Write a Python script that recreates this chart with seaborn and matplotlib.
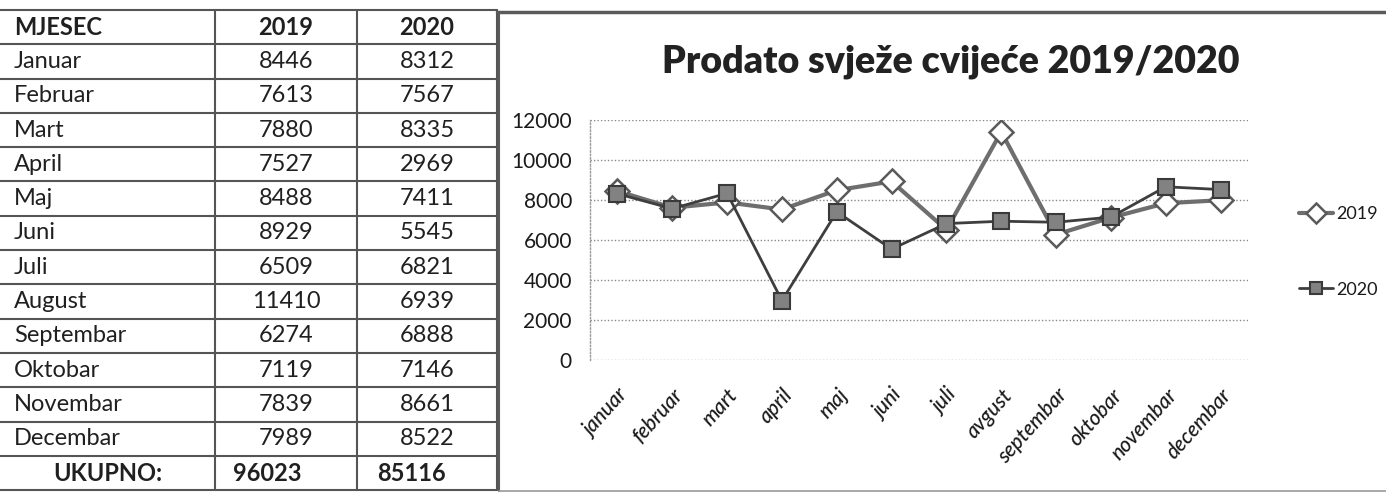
import numpy as np
import pandas as pd
import matplotlib
matplotlib.use('Agg')
import matplotlib.pyplot as plt
import seaborn as sns
from matplotlib.lines import Line2D

# ---------------- data ----------------
mjeseci_tabela = ['Januar', 'Februar', 'Mart', 'April', 'Maj', 'Juni', 'Juli',
                  'August', 'Septembar', 'Oktobar', 'Novembar', 'Decembar']
mjeseci_graf = ['januar', 'februar', 'mart', 'april', 'maj', 'juni', 'juli',
                'avgust', 'septembar', 'oktobar', 'novembar', 'decembar']
prodaja_2019 = [8446, 7613, 7880, 7527, 8488, 8929, 6509, 11410, 6274, 7119, 7839, 7989]
prodaja_2020 = [8312, 7567, 8335, 2969, 7411, 5545, 6821, 6939, 6888, 7146, 8661, 8522]
zaglavlje = ['MJESEC', '2019', '2020']
ukupno_label = 'UKUPNO:'
serije = ['2019', '2020']
y_ticks = [0, 2000, 4000, 6000, 8000, 10000, 12000]
naslov = 'Prodato svježe cvijeće 2019/2020'

sns.set_theme(style='white')
plt.rcParams['font.family'] = ['Lato', 'DejaVu Sans']

W, H = 1386, 493
fig = plt.figure(figsize=(W / 100, H / 100), dpi=100)
fig.patch.set_facecolor('white')


def fx(px):
    return px / W


def fy(py):
    return 1 - py / H


def hline(x0, x1, y, **kw):
    fig.add_artist(Line2D([fx(x0), fx(x1)], [fy(y), fy(y)], transform=fig.transFigure, **kw))


def vline(x, y0, y1, **kw):
    fig.add_artist(Line2D([fx(x), fx(x)], [fy(y0), fy(y1)], transform=fig.transFigure, **kw))


# ---------------- table ----------------
top = 10
rh = 34.3
col_x = [0, 215, 357, 497]
n_rows = len(mjeseci_tabela) + 2
line_col = '#555555'
txt_col = '#202020'
tfs = 17

for i in range(n_rows + 1):
    hline(0, 497, top + i * rh, color=line_col, lw=1.5)
for x in col_x[1:]:
    vline(x, top, top + n_rows * rh, color=line_col, lw=1.5)

c1 = (col_x[1] + col_x[2]) / 2
c2 = (col_x[2] + col_x[3]) / 2

# header
yc = top + 0.5 * rh
fig.text(fx(14), fy(yc), zaglavlje[0], ha='left', va='center', fontsize=tfs,
         fontweight='bold', color=txt_col)
fig.text(fx(c1), fy(yc), zaglavlje[1], ha='center', va='center', fontsize=tfs,
         fontweight='bold', color=txt_col)
fig.text(fx(c2), fy(yc), zaglavlje[2], ha='center', va='center', fontsize=tfs,
         fontweight='bold', color=txt_col)

for i, (m, a, b) in enumerate(zip(mjeseci_tabela, prodaja_2019, prodaja_2020)):
    yc = top + (i + 1.5) * rh
    fig.text(fx(14), fy(yc), m, ha='left', va='center', fontsize=tfs, color=txt_col)
    fig.text(fx(c1), fy(yc), str(a), ha='center', va='center', fontsize=tfs, color=txt_col)
    fig.text(fx(c2), fy(yc), str(b), ha='center', va='center', fontsize=tfs, color=txt_col)

yc = top + (n_rows - 0.5) * rh
fig.text(fx(col_x[1] / 2), fy(yc), ukupno_label, ha='center', va='center',
         fontsize=tfs, fontweight='bold', color=txt_col)
fig.text(fx(233), fy(yc), str(sum(prodaja_2019)), ha='left', va='center',
         fontsize=tfs, fontweight='bold', color=txt_col)
fig.text(fx(377), fy(yc), str(sum(prodaja_2020)), ha='left', va='center',
         fontsize=tfs, fontweight='bold', color=txt_col)

# ---------------- chart frame ----------------
hline(497, W, 12, color='#5a5a5a', lw=2.5)
vline(499, 12, 491, color='#5a5a5a', lw=1.5)
hline(499, W, 491, color='#9a9a9a', lw=1.2)

fig.text(fx(951), fy(62), naslov, ha='center', va='center', fontsize=27,
         fontweight='heavy', color='#222222')

# ---------------- line chart ----------------
ax = fig.add_axes([fx(590), fy(360), fx(1248) - fx(590), (360 - 120) / H])
ax.set_facecolor('white')

sns.lineplot(x=mjeseci_graf, y=prodaja_2019, ax=ax, sort=False, color='#6e6e6e',
             lw=3, marker='D', markersize=12, markerfacecolor='white',
             markeredgecolor='#5a5a5a', markeredgewidth=1.8, label=serije[0])
sns.lineplot(x=mjeseci_graf, y=prodaja_2020, ax=ax, sort=False, color='#3e3e3e',
             lw=2, marker='s', markersize=11, markerfacecolor='#828282',
             markeredgecolor='#3a3a3a', markeredgewidth=1.5, label=serije[1])

ax.set_xlim(-0.5, len(mjeseci_graf) - 0.5)
ax.set_ylim(y_ticks[0], y_ticks[-1])
ax.set_yticks(y_ticks)
ax.set_xlabel('')
ax.set_ylabel('')
ax.yaxis.grid(True, linestyle=(0, (1, 1.5)), color='#8a8a8a', lw=1)
ax.xaxis.grid(False)
for s in ['top', 'right', 'bottom']:
    ax.spines[s].set_visible(False)
ax.spines['left'].set_linestyle((0, (1, 1.5)))
ax.spines['left'].set_color('#9a9a9a')
ax.spines['left'].set_linewidth(1)

ax.tick_params(axis='y', length=0, pad=13, labelsize=15, labelcolor='#1a1a1a')
ax.tick_params(axis='x', length=0, pad=18, labelsize=15, labelcolor='#1a1a1a')
for lbl in ax.get_xticklabels():
    lbl.set_rotation(48)
    lbl.set_ha('right')
    lbl.set_va('top')
    lbl.set_rotation_mode('anchor')
    lbl.set_style('italic')
    lbl.set_fontweight('medium')

handles, labels = ax.get_legend_handles_labels()
if ax.get_legend() is not None:
    ax.get_legend().remove()
fig.legend(handles, labels, loc='center left', bbox_to_anchor=(fx(1290), fy(252)),
           frameon=False, fontsize=13, labelspacing=3.3, handlelength=1.9,
           handletextpad=0.15, borderpad=0, labelcolor='#1a1a1a', markerscale=0.85)

fig.savefig('out.png', dpi=100, facecolor='white')
